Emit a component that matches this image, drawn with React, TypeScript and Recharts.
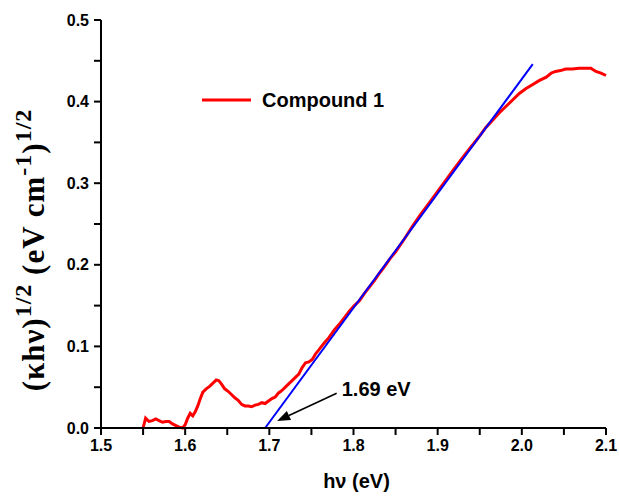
import React from 'react';
import {
  LineChart,
  Line,
  XAxis,
  YAxis,
  ReferenceLine,
  ReferenceDot,
  Legend,
  Label,
} from 'recharts';

// ---- data ----
const photonEnergy = [
  1.55, 1.553, 1.557, 1.561, 1.565, 1.569, 1.573, 1.577, 1.581, 1.585, 1.589, 1.593, 1.597,
  1.6, 1.603, 1.606, 1.609, 1.612, 1.615, 1.618, 1.621, 1.625, 1.629, 1.633, 1.637, 1.64,
  1.643, 1.647, 1.651, 1.655, 1.659, 1.663, 1.667, 1.671, 1.675, 1.679, 1.683, 1.687, 1.691,
  1.695, 1.699, 1.703, 1.707, 1.711, 1.715, 1.719, 1.723, 1.727, 1.731, 1.735, 1.739, 1.743,
  1.747, 1.751, 1.755, 1.759, 1.765, 1.771, 1.777, 1.783, 1.789, 1.795, 1.801, 1.807, 1.813,
  1.819, 1.825, 1.831, 1.837, 1.843, 1.85, 1.86, 1.87, 1.88, 1.89, 1.9, 1.91, 1.92, 1.93,
  1.94, 1.95, 1.957, 1.965, 1.973, 1.981, 1.989, 1.997, 2.005, 2.013, 2.021, 2.029, 2.035,
  2.04, 2.046, 2.052, 2.06, 2.068, 2.076, 2.082, 2.088, 2.094, 2.1,
];
const compound1 = [
  0.0, 0.012, 0.008, 0.009, 0.011, 0.009, 0.007, 0.008, 0.008, 0.005, 0.003, 0.001, 0.0,
  0.004, 0.012, 0.018, 0.015, 0.02, 0.027, 0.036, 0.044, 0.048, 0.051, 0.055, 0.059, 0.058,
  0.054, 0.048, 0.045, 0.041, 0.037, 0.034, 0.029, 0.027, 0.027, 0.026, 0.028, 0.029, 0.031,
  0.03, 0.033, 0.036, 0.038, 0.043, 0.046, 0.05, 0.054, 0.058, 0.062, 0.066, 0.074, 0.08,
  0.081, 0.084, 0.091, 0.096, 0.104, 0.111, 0.12, 0.127, 0.135, 0.143, 0.15, 0.156, 0.165,
  0.173, 0.181, 0.19, 0.198, 0.207, 0.216, 0.231, 0.247, 0.262, 0.276, 0.29, 0.304, 0.318, 0.332,
  0.345, 0.358, 0.368, 0.377, 0.386, 0.394, 0.402, 0.41, 0.416, 0.421, 0.426, 0.43, 0.435,
  0.437, 0.438, 0.44, 0.44, 0.441, 0.441, 0.441, 0.437, 0.435, 0.432,
];
// linear fit (Tauc extrapolation)
const fitStart = { x: 1.695, y: 0 };
const fitEnd = { x: 2.013, y: 0.446 };
// arrow pointing to the band-gap intercept
const arrowTail = { x: 1.78, y: 0.0425 };
const arrowTip = { x: 1.7093, y: 0.0086 };
const annotationPos = { x: 1.786, y: 0.0478 };
const annotationText = '1.69 eV';

const xTicks = [1.5, 1.55, 1.6, 1.65, 1.7, 1.75, 1.8, 1.85, 1.9, 1.95, 2.0, 2.05, 2.1];
const xTickLabels = ['1.5', '1.6', '1.7', '1.8', '1.9', '2.0', '2.1'];
const yTicks = [0, 0.05, 0.1, 0.15, 0.2, 0.25, 0.3, 0.35, 0.4, 0.45, 0.5];
const yTickLabels = ['0.0', '0.1', '0.2', '0.3', '0.4', '0.5'];
const seriesName = 'Compound 1';

const chartData = photonEnergy.map((x, i) => ({ x, y: compound1[i] }));

const SANS = 'Liberation Sans';
const SERIF = 'Liberation Serif';

const tickStyle = { fill: '#000', fontWeight: 'bold', fontSize: 16, fontFamily: SANS };
const fmtX = (_v: number, i: number) => (i % 2 === 0 ? xTickLabels[i / 2] : '');
const fmtY = (_v: number, i: number) => (i % 2 === 0 ? yTickLabels[i / 2] : '');

const XLabel = (props: any) => {
  const { viewBox } = props;
  const cx = viewBox.x + viewBox.width / 2 + 3;
  const cy = viewBox.y + 60;
  return (
    <text x={cx} y={cy} textAnchor="middle" fill="#000" fontWeight="bold" fontSize={20} fontFamily={SANS}>
      hν (eV)
    </text>
  );
};

const YLabel = (props: any) => {
  const { viewBox } = props;
  const cx = viewBox.x + 3;
  const cy = viewBox.y + viewBox.height / 2 + 26;
  return (
    <text
      x={cx}
      y={cy}
      transform={`rotate(-90, ${cx}, ${cy})`}
      textAnchor="middle"
      fill="#000"
      fontWeight="bold"
      fontSize={31}
      fontFamily={SERIF}
      letterSpacing={1}
    >
      <tspan>(κhν)</tspan>
      <tspan dy={-13} fontSize={24}>1/2</tspan>
      <tspan dy={13}> (eV cm</tspan>
      <tspan dy={-13} fontSize={24}>-1</tspan>
      <tspan dy={13}>)</tspan>
      <tspan dy={-13} fontSize={24}>1/2</tspan>
    </text>
  );
};

const Arrow = (props: any) => {
  const { x1, y1, x2, y2 } = props;
  const ang = Math.atan2(y2 - y1, x2 - x1);
  const len = 13;
  const half = 5;
  const bx = x2 - len * Math.cos(ang);
  const by = y2 - len * Math.sin(ang);
  const px = -Math.sin(ang) * half;
  const py = Math.cos(ang) * half;
  return (
    <g>
      <line x1={x1} y1={y1} x2={bx} y2={by} stroke="#000" strokeWidth={1.6} />
      <polygon points={`${x2},${y2} ${bx + px},${by + py} ${bx - px},${by - py}`} fill="#000" />
    </g>
  );
};

const AnnotLabel = (props: any) => {
  const { viewBox } = props;
  return (
    <text x={viewBox.x} y={viewBox.y} dy="0.36em" textAnchor="start" fill="#000" fontWeight="bold" fontSize={20} fontFamily={SANS}>
      {annotationText}
    </text>
  );
};

const renderLegend = (props: any) => {
  const { payload } = props;
  return (
    <div>
      {(payload || []).map((e: any) => (
        <div key={e.value} style={{ display: 'flex', alignItems: 'center', height: 24 }}>
          <svg width={50} height={6} style={{ display: 'block' }}>
            <line x1={0} x2={49} y1={3} y2={3} stroke={e.color} strokeWidth={3} />
          </svg>
          <span style={{ marginLeft: 10, fontFamily: SANS, fontWeight: 'bold', fontSize: 20, color: '#000', whiteSpace: 'nowrap' }}>
            {e.value}
          </span>
        </div>
      ))}
    </div>
  );
};

export default function App() {
  return (
    <div style={{ width: 619, height: 497, position: 'relative' }}>
      <style>{`body{margin:0;} .recharts-surface{overflow:visible;}`}</style>
      <LineChart
        width={619}
        height={497}
        data={chartData}
        margin={{ top: 20, right: 13, bottom: 29, left: 41 }}
      >
        <XAxis
          type="number"
          dataKey="x"
          domain={[1.5, 2.1]}
          ticks={xTicks}
          interval={0}
          tickSize={7}
          tickMargin={5}
          tickLine={{ stroke: '#000', strokeWidth: 2 }}
          axisLine={{ stroke: '#000', strokeWidth: 2 }}
          tick={tickStyle}
          tickFormatter={fmtX}
          height={40}
        >
          <Label content={<XLabel />} />
        </XAxis>
        <YAxis
          type="number"
          domain={[0, 0.5]}
          ticks={yTicks}
          interval={0}
          tickSize={7}
          tickMargin={5}
          tickLine={{ stroke: '#000', strokeWidth: 2 }}
          axisLine={{ stroke: '#000', strokeWidth: 2 }}
          tick={tickStyle}
          tickFormatter={fmtY}
          width={60}
        >
          <Label content={<YLabel />} />
        </YAxis>
        <Legend
          layout="horizontal"
          verticalAlign="middle"
          align="center"
          content={renderLegend}
          wrapperStyle={{ left: 202, top: 88, width: 260, height: 24 }}
        />
        <Line
          type="linear"
          dataKey="y"
          name={seriesName}
          stroke="#ff0000"
          strokeWidth={3}
          dot={false}
          activeDot={false}
          isAnimationActive={false}
        />
        <ReferenceLine segment={[fitStart, fitEnd]} stroke="#0000ff" strokeWidth={2} />
        <ReferenceLine segment={[arrowTail, arrowTip]} shape={<Arrow />} />
        <ReferenceDot x={annotationPos.x} y={annotationPos.y} r={0} fill="none" stroke="none" label={<AnnotLabel />} />
      </LineChart>
    </div>
  );
}
